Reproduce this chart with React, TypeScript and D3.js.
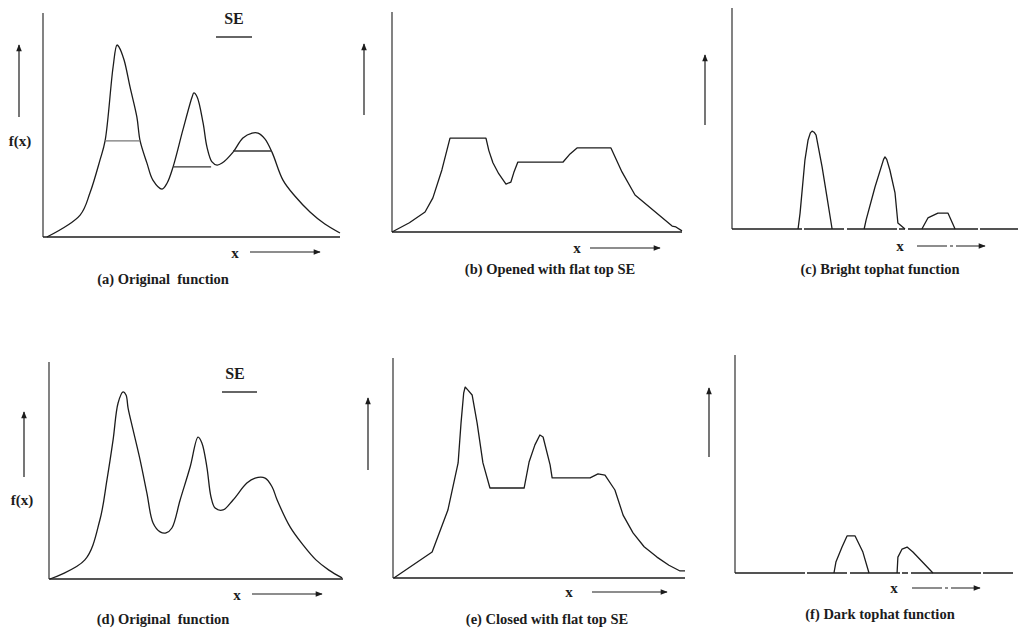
import * as d3 from 'd3';

// all curves are in 0-100 units along each panel's axes

// (a) original function
const origAX = [1.3, 12.5, 15.8, 19.2, 20.9, 23.6, 24.9, 25.6, 27.3, 29.3, 31.6, 32.7, 35.0, 37.0, 40.1, 41.8, 43.8, 47.1, 50.2, 50.8, 51.9, 53.9, 55.2, 56.9, 58.6, 60.3, 64.0, 67.3, 70.4, 72.4, 74.7, 77.1, 80.8, 84.8, 89.9, 94.9, 100];
const origAY = [0, 9.8, 19.6, 34.4, 42.9, 75.9, 85.7, 84.8, 79.0, 67.0, 53.6, 42.9, 33.0, 25.4, 21.4, 24.1, 31.3, 47.8, 62.5, 64.3, 62.5, 50.9, 40.2, 33.5, 32.1, 33.0, 37.9, 44.2, 46.4, 46.4, 43.8, 37.9, 25.4, 18.3, 11.2, 5.8, 1.8];

// SE placed under the peaks of (a): start, end, level
const seStart = [20.9, 43.8, 64.0];
const seEnd = [32.7, 56.6, 77.1];
const seLevel = [42.9, 31.3, 38.4];

// (b) opened
const openX = [0, 6.0, 11.4, 14.1, 17.2, 20.0, 32.4, 33.4, 34.8, 36.8, 39.3, 41.0, 42.0, 43.4, 59.0, 61.4, 63.8, 75.5, 79.3, 83.8, 96.6, 97.9, 100];
const openY = [0, 4.2, 9.1, 15.5, 28.2, 42.7, 42.7, 37.0, 31.5, 26.5, 21.8, 22.7, 27.0, 31.8, 31.8, 35.5, 38.2, 38.2, 27.3, 16.8, 2.7, 2.3, 0.5];

// (c) bright tophat, three pulses
const brightX1 = [23.1, 23.8, 25.5, 26.6, 27.4, 28.0, 28.7, 29.4, 31.5, 33.2, 35.0];
const brightY1 = [0, 7.2, 31.2, 40.3, 43.5, 44.3, 43.8, 42.5, 28.1, 14.5, 0];
const brightX2 = [46.2, 46.9, 50.0, 53.0, 53.5, 54.1, 55.2, 57.0, 58.0, 60.5];
const brightY2 = [0, 4.1, 19.0, 31.5, 32.6, 31.5, 26.7, 16.3, 2.7, 0];
const brightX3 = [66.4, 68.5, 72.0, 75.5, 78.0];
const brightY3 = [0, 5.0, 7.2, 7.2, 0];

// (d) original function (second drawing)
const origDX = [0.3, 12.2, 17.3, 19.7, 21.8, 23.5, 25.2, 26.2, 26.9, 28.6, 31.0, 33.3, 35.4, 37.8, 39.8, 41.8, 44.6, 48.0, 50.7, 52.0, 53.7, 55.1, 56.5, 59.2, 62.6, 67.3, 70.1, 73.5, 75.9, 77.6, 82.0, 86.4, 90.8, 95.2, 99.7];
const origDY = [0, 8.8, 27.2, 45.6, 64.1, 81.1, 86.2, 84.8, 78.8, 68.7, 54.8, 39.6, 25.8, 21.7, 21.2, 23.5, 36.4, 51.6, 65.4, 62.7, 51.6, 37.8, 32.7, 31.8, 36.4, 44.2, 46.5, 46.5, 42.4, 36.4, 24.0, 15.7, 8.8, 4.1, 0.5];

// (e) closed
const closeX = [0.3, 13.4, 18.8, 22.3, 23.3, 24.2, 24.7, 25.6, 27.1, 28.8, 30.8, 33.2, 44.9, 46.6, 48.6, 50.3, 51.4, 53.8, 54.5, 67.5, 70.2, 72.6, 76.0, 78.8, 82.2, 86.0, 90.4, 94.5, 98.3, 100];
const closeY = [0, 11.8, 30.9, 52.3, 70.5, 84.0, 86.8, 85.5, 83.2, 70.5, 52.3, 40.9, 40.9, 52.7, 60.5, 65.0, 64.1, 51.4, 45.5, 45.5, 47.3, 46.8, 40.0, 28.6, 20.5, 14.2, 9.5, 5.8, 3.2, 3.2];

// (f) dark tophat, two pulses
const darkX1 = [35.6, 36.3, 38.5, 40.3, 43.2, 46.0, 48.2];
const darkY1 = [0, 5.0, 11.9, 17.0, 17.0, 9.6, 0];
const darkX2 = [58.3, 58.6, 60.1, 61.9, 64.0, 71.2];
const darkY2 = [0, 7.3, 11.0, 11.9, 9.6, 0];

const captions = [
  '(a) Original\u00a0 function',
  '(b) Opened with flat top SE',
  '(c) Bright tophat function',
  '(d) Original\u00a0 function',
  '(e) Closed with flat top SE',
  '(f) Dark tophat function',
];

const zip = (xs: number[], ys: number[]) => xs.map((x, i) => [x, ys[i]] as [number, number]);

const smooth = d3.curveCatmullRom.alpha(0.5);
const angular = d3.curveLinear;

const panels = [
  { box: [43, 340, 237, 13], curves: [zip(origAX, origAY)], curve: smooth, caption: [163, 281], xLab: [235, 255], xArr: [250, 320, 252], yArr: [19, 117, 45], fx: [20, 143], se: [234, 20, 216, 252, 37], showSE: true, dash: false },
  { box: [392, 682, 232, 12], curves: [zip(openX, openY)], curve: angular, caption: [550, 271], xLab: [577, 250], xArr: [590, 660, 248], yArr: [364, 115, 44], fx: null, se: null, showSE: false, dash: false },
  { box: [732, 1018, 229, 8], curves: [zip(brightX1, brightY1), zip(brightX2, brightY2), zip(brightX3, brightY3)], curve: angular, caption: [880, 271], xLab: [900, 248], xArr: [917, 985, 246], yArr: [705, 125, 55], fx: null, se: null, showSE: false, dash: true },
  { box: [49, 343, 579, 362], curves: [zip(origDX, origDY)], curve: smooth, caption: [163, 621], xLab: [237, 597], xArr: [252, 322, 594], yArr: [24, 477, 412], fx: [22, 502], se: [235, 375, 222, 257, 392], showSE: false, dash: false },
  { box: [393, 685, 578, 358], curves: [zip(closeX, closeY)], curve: angular, caption: [547, 621], xLab: [569, 594], xArr: [592, 667, 592], yArr: [368, 470, 398], fx: null, se: null, showSE: false, dash: false },
  { box: [735, 1013, 573, 355], curves: [zip(darkX1, darkY1), zip(darkX2, darkY2)], curve: angular, caption: [880, 616], xLab: [894, 590], xArr: [912, 980, 588], yArr: [709, 457, 388], fx: null, se: null, showSE: false, dash: true },
];

const ink = '#1c1c1c';
const font = '"Liberation Serif", "DejaVu Serif", serif';

function Panel({ p, idx }: { p: any; idx: number }) {
  const [l, r, b, t] = p.box;
  const x = d3.scaleLinear().domain([0, 100]).range([l, r]);
  const y = d3.scaleLinear().domain([0, 100]).range([b, t]);
  const line = d3.line<[number, number]>()
    .x(d => x(d[0]))
    .y(d => y(d[1]))
    .curve(p.curve);

  return (
    <g>
      {/* axes */}
      <line x1={x(0)} y1={y(0)} x2={x(0)} y2={y(100)} stroke={ink} strokeWidth={1.1} />
      <line x1={x(0)} y1={y(0)} x2={x(100)} y2={y(0)} stroke={ink} strokeWidth={1.3}
        strokeDasharray={p.dash ? '70 2 40 3 50 2 6 3' : undefined} />

      {p.curves.map((c: [number, number][], i: number) => (
        <path key={i} d={line(c) || ''} fill="none" stroke={ink} strokeWidth={1.3} strokeLinejoin="round" />
      ))}

      {p.showSE && seStart.map((s, i) => (
        <line key={'se' + i} x1={x(s)} x2={x(seEnd[i])} y1={y(seLevel[i])} y2={y(seLevel[i])}
          stroke={i === 0 ? '#777' : '#333'} strokeWidth={1.3} />
      ))}

      {/* up arrow */}
      <line x1={p.yArr[0]} y1={p.yArr[1]} x2={p.yArr[0]} y2={p.yArr[2]} stroke={ink} strokeWidth={1.2} markerEnd="url(#arrowHead)" />
      {/* x label + arrow */}
      <text x={p.xLab[0]} y={p.xLab[1]} textAnchor="middle" dominantBaseline="middle" fontFamily={font} fontWeight="bold" fontSize={15} fill={ink}>x</text>
      <line x1={p.xArr[0]} y1={p.xArr[2]} x2={p.xArr[1]} y2={p.xArr[2]} stroke={ink} strokeWidth={1.2}
        strokeDasharray={p.dash ? '30 3 3 3' : undefined} markerEnd="url(#arrowHead)" />

      {p.fx && (
        <text x={p.fx[0]} y={p.fx[1]} textAnchor="middle" dominantBaseline="middle" fontFamily={font} fontWeight="bold" fontSize={15} fill={ink}>f(x)</text>
      )}
      {p.se && (
        <g>
          <text x={p.se[0]} y={p.se[1]} textAnchor="middle" dominantBaseline="middle" fontFamily={font} fontWeight="bold" fontSize={16} fill={ink}>SE</text>
          <line x1={p.se[2]} x2={p.se[3]} y1={p.se[4]} y2={p.se[4]} stroke="#333" strokeWidth={1.3} />
        </g>
      )}

      <text x={p.caption[0]} y={p.caption[1]} textAnchor="middle" dominantBaseline="middle" fontFamily={font} fontWeight="bold" fontSize={14.5} fill={ink}>
        {captions[idx]}
      </text>
    </g>
  );
}

export default function App() {
  return (
    <svg width={1023} height={634} style={{ position: 'absolute', left: 0, top: 0, background: '#fff' }}>
      <defs>
        <marker id="arrowHead" viewBox="0 0 10 10" refX={9} refY={5} markerWidth={9} markerHeight={7}
          markerUnits="userSpaceOnUse" orient="auto">
          <path d="M0,1 L10,5 L0,9 z" fill={ink} />
        </marker>
      </defs>
      {panels.map((p, i) => <Panel key={i} p={p} idx={i} />)}
    </svg>
  );
}
